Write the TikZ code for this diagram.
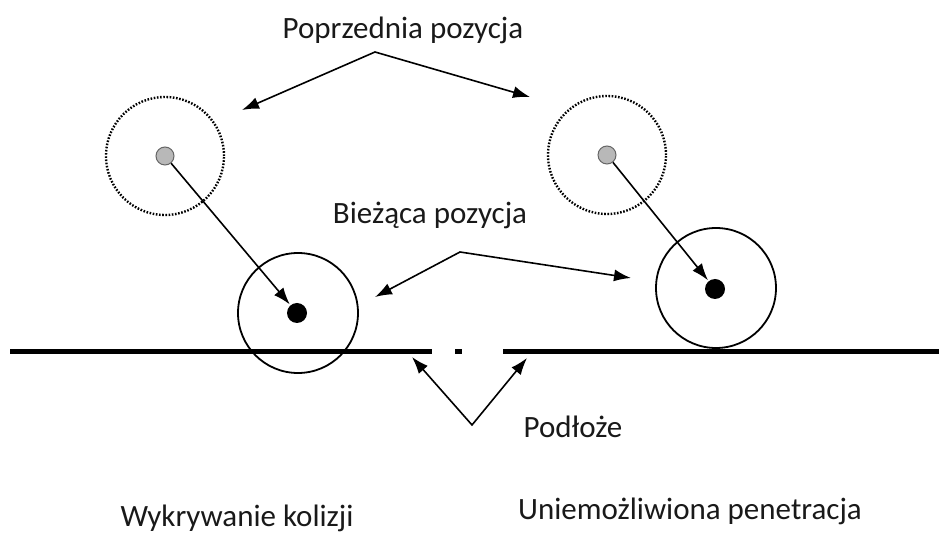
\documentclass[tikz,border=0pt]{standalone}
\usepackage{fontspec}
\setmainfont{Carlito}
\usetikzlibrary{arrows.meta,positioning}
\tikzset
{
    oldball/.style = {circle, draw=black, line width=2.4pt, dash pattern=on 1.6pt off 1.6pt, minimum size=118pt, inner sep=0pt},
    newball/.style = {circle, draw=black, line width=1.8pt, minimum size=120pt, inner sep=0pt},
    oldcentre/.style = {circle, draw=black!60, fill=black!28, line width=1pt, minimum size=18pt, inner sep=0pt},
    newcentre/.style = {circle, fill=black, minimum size=20pt, inner sep=0pt},
    pointer/.style = {-{Latex[length=17pt,width=12pt]}, line width=1.6pt, shorten >=1pt},
    forked/.style = {{Latex[length=17pt,width=12pt]}-{Latex[length=17pt,width=12pt]}, line width=1.6pt},
    floor/.style = {line width=5pt},
    caption/.style = {font=\fontsize{31}{36}\selectfont, text=black!90, inner sep=0pt}
}

\begin{document}
\begin{tikzpicture}[x=1pt, y=1pt]
	\useasboundingbox (0,0) rectangle (939,535);
	\draw[floor] (10,183) -- (432,183);
	\draw[floor] (455,183) -- (462,183);
	\draw[floor] (503,183) -- (939,183);

	\node[oldball] (old1) at (165,379) {};
	\node[oldcentre] (old1c) at (old1.center) {};
	\node[newball] (new1) at (298,222) {};
	\node[newcentre] (new1c) at (297,222) {};
	\draw[pointer] (old1c) -- (new1c);

	\node[oldball] (old2) at (607,380) {};
	\node[oldcentre] (old2c) at (old2.center) {};
	\node[newball] (new2) at (716,247) {};
	\node[newcentre] (new2c) at (715,246) {};
	\draw[pointer] (old2c) -- (new2c);

	\node[caption] (prev) at (403,505) {Poprzednia pozycja};
	\coordinate (prevfork) at (375,483);
	\coordinate (prevleft) at (242,425);
	\coordinate (prevright) at (530,438);
	\draw[forked] (prevleft) -- (prevfork) -- (prevright);

	\node[caption] (curr) at (430,320) {Bieżąca pozycja};
	\coordinate (currfork) at (460,283);
	\coordinate (currleft) at (375,238);
	\coordinate (currright) at (631,257);
	\draw[forked] (currleft) -- (currfork) -- (currright);

	\node[caption] (ground) at (573,108) {Podłoże};
	\coordinate (groundfork) at (472,110);
	\coordinate (groundleft) at (412,178);
	\coordinate (groundright) at (527,177);
	\draw[forked] (groundleft) -- (groundfork) -- (groundright);

	\node[caption] (detect) at (237,17) {Wykrywanie kolizji};
	\node[caption] (prevent) at (690,24) {Uniemożliwiona penetracja};
\end{tikzpicture}
\end{document}
